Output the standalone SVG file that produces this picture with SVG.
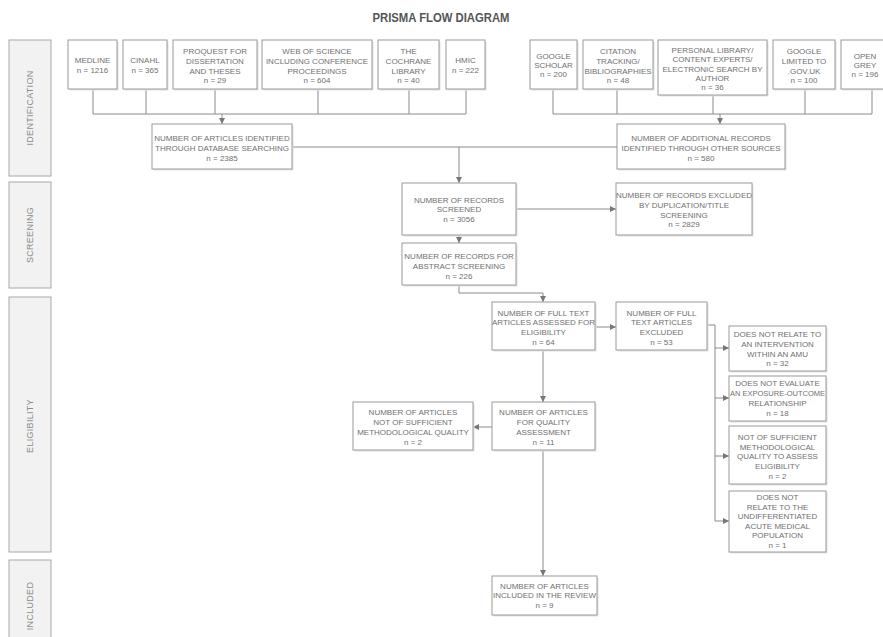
<svg xmlns="http://www.w3.org/2000/svg" width="883" height="637" viewBox="0 0 883 637">
<style>
.bg{fill:#ffffff}
.box{fill:#ffffff;stroke:#9a9a9a;stroke-width:1}
.sh{fill:#e2e2e2}
.side{fill:#f2f2f2;stroke:#a8a8a8;stroke-width:1}
.t{font-family:"Liberation Sans",Arial,sans-serif;font-size:8px;fill:#707070;text-anchor:middle}
.st{font-family:"Liberation Sans",Arial,sans-serif;font-size:9px;fill:#8a8a8a;text-anchor:middle;letter-spacing:0.3px}
.title{font-family:"Liberation Sans",Arial,sans-serif;font-size:13px;font-weight:bold;fill:#555555;text-anchor:middle}
.c{fill:none;stroke:#8a8a8a;stroke-width:1}
.a{fill:none;stroke:#8a8a8a;stroke-width:1;marker-end:url(#arr)}
</style>
<defs>
<marker id="arr" markerUnits="userSpaceOnUse" markerWidth="8" markerHeight="8" viewBox="0 0 8 8" refX="7" refY="4" orient="auto">
<path d="M1,1 L7,4 L1,7 Z" fill="#777777"/>
</marker>
</defs>
<rect class="bg" x="0" y="0" width="883" height="637"/>
<text class="title" x="441" y="22" textLength="137" lengthAdjust="spacingAndGlyphs">PRISMA FLOW DIAGRAM</text>

<g id="stages">
<g id="stage-identification"><rect class="side" x="9" y="40" width="42" height="136"/><text class="st" transform="translate(33,108) rotate(-90)">IDENTIFICATION</text></g>
<g id="stage-screening"><rect class="side" x="9" y="182" width="42" height="106"/><text class="st" transform="translate(33,235) rotate(-90)">SCREENING</text></g>
<g id="stage-eligibility"><rect class="side" x="9" y="297" width="42" height="255"/><text class="st" transform="translate(33,426) rotate(-90)">ELIGIBILITY</text></g>
<g id="stage-included"><rect class="side" x="9" y="560" width="42" height="90"/><text class="st" transform="translate(33,606) rotate(-90)">INCLUDED</text></g>
</g>

<g id="connectors">
<path class="c" d="M93,89 V114 M146,89 V114 M215,89 V114 M318,89 V114 M409,89 V114 M466,89 V114 M93,114 H466"/>
<path class="a" d="M222,114 V124"/>
<path class="c" d="M553,89 V114 M617,89 V114 M713,95 V114 M805,89 V114 M872,89 V114 M553,114 H872"/>
<path class="a" d="M720,114 V124"/>
<path class="c" d="M292,147 H617"/>
<path class="a" d="M459,147 V183"/>
<path class="a" d="M516,209 H616"/>
<path class="a" d="M459,235 V243"/>
<path class="a" d="M459,285 V293 H543 V302"/>
<path class="a" d="M595,327 H616"/>
<path class="c" d="M707,325 H715 V521"/>
<path class="a" d="M715,348 H729"/>
<path class="a" d="M715,398 H729"/>
<path class="a" d="M715,456 H729"/>
<path class="a" d="M715,521 H729"/>
<path class="a" d="M543,350 V402"/>
<path class="a" d="M492,427 H473"/>
<path class="a" d="M543,450 V576"/>
</g>

<g id="medline"><rect class="sh" x="69.5" y="41.5" width="49" height="49"/><rect class="box" x="68" y="40" width="49" height="49"/>
<text class="t" x="92.5" y="63">MEDLINE</text><text class="t" x="92.5" y="73">n = 1216</text></g>
<g id="cinahl"><rect class="sh" x="124.5" y="41.5" width="44" height="49"/><rect class="box" x="123" y="40" width="44" height="49"/>
<text class="t" x="145" y="63">CINAHL</text><text class="t" x="145" y="73">n = 365</text></g>
<g id="proquest"><rect class="sh" x="174.5" y="41.5" width="84" height="49"/><rect class="box" x="173" y="40" width="84" height="49"/>
<text class="t" x="215" y="54">PROQUEST FOR</text><text class="t" x="215" y="64">DISSERTATION</text><text class="t" x="215" y="74">AND THESES</text><text class="t" x="215" y="83">n = 29</text></g>
<g id="wos"><rect class="sh" x="263.5" y="41.5" width="110" height="49"/><rect class="box" x="262" y="40" width="110" height="49"/>
<text class="t" x="317" y="54">WEB OF SCIENCE</text><text class="t" x="317" y="64">INCLUDING CONFERENCE</text><text class="t" x="317" y="74">PROCEEDINGS</text><text class="t" x="317" y="83">n = 604</text></g>
<g id="cochrane"><rect class="sh" x="379.5" y="41.5" width="61" height="49"/><rect class="box" x="378" y="40" width="61" height="49"/>
<text class="t" x="408.5" y="54">THE</text><text class="t" x="408.5" y="64">COCHRANE</text><text class="t" x="408.5" y="74">LIBRARY</text><text class="t" x="408.5" y="83">n = 40</text></g>
<g id="hmic"><rect class="sh" x="447.5" y="41.5" width="39" height="49"/><rect class="box" x="446" y="40" width="39" height="49"/>
<text class="t" x="465.5" y="63">HMIC</text><text class="t" x="465.5" y="73">n = 222</text></g>

<g id="gscholar"><rect class="sh" x="531.5" y="41.5" width="47" height="49"/><rect class="box" x="530" y="40" width="47" height="49"/>
<text class="t" x="553.5" y="59">GOOGLE</text><text class="t" x="553.5" y="68">SCHOLAR</text><text class="t" x="553.5" y="77">n = 200</text></g>
<g id="citation"><rect class="sh" x="584.5" y="41.5" width="70" height="49"/><rect class="box" x="583" y="40" width="70" height="49"/>
<text class="t" x="618" y="54">CITATION</text><text class="t" x="618" y="64">TRACKING/</text><text class="t" x="618" y="74">BIBLIOGRAPHIES</text><text class="t" x="618" y="83">n = 48</text></g>
<g id="personal"><rect class="sh" x="659.5" y="41.5" width="109" height="55"/><rect class="box" x="658" y="40" width="109" height="55"/>
<text class="t" x="712.5" y="53">PERSONAL LIBRARY/</text><text class="t" x="712.5" y="62">CONTENT EXPERTS/</text><text class="t" x="712.5" y="72">ELECTRONIC SEARCH BY</text><text class="t" x="712.5" y="81">AUTHOR</text><text class="t" x="712.5" y="90">n = 36</text></g>
<g id="govuk"><rect class="sh" x="774.5" y="41.5" width="62" height="49"/><rect class="box" x="773" y="40" width="62" height="49"/>
<text class="t" x="804" y="54">GOOGLE</text><text class="t" x="804" y="64">LIMITED TO</text><text class="t" x="804" y="74">.GOV.UK</text><text class="t" x="804" y="83">n = 100</text></g>
<g id="opengrey"><rect class="sh" x="842.5" y="41.5" width="66" height="49"/><rect class="box" x="841" y="40" width="66" height="49"/>
<text class="t" x="865" y="59">OPEN</text><text class="t" x="865" y="68">GREY</text><text class="t" x="865" y="77">n = 196</text></g>

<g id="database"><rect class="sh" x="153.5" y="125.5" width="140" height="45"/><rect class="box" x="152" y="124" width="140" height="45"/>
<text class="t" x="222" y="141">NUMBER OF ARTICLES IDENTIFIED</text><text class="t" x="222" y="151">THROUGH DATABASE SEARCHING</text><text class="t" x="222" y="161">n = 2385</text></g>
<g id="additional"><rect class="sh" x="618.5" y="125.5" width="168" height="45"/><rect class="box" x="617" y="124" width="168" height="45"/>
<text class="t" x="701" y="141">NUMBER OF ADDITIONAL RECORDS</text><text class="t" x="701" y="151">IDENTIFIED THROUGH OTHER SOURCES</text><text class="t" x="701" y="161">n = 580</text></g>
<g id="screened"><rect class="sh" x="403.5" y="184.5" width="114" height="52"/><rect class="box" x="402" y="183" width="114" height="52"/>
<text class="t" x="459" y="203">NUMBER OF RECORDS</text><text class="t" x="459" y="212">SCREENED</text><text class="t" x="459" y="222">n = 3056</text></g>
<g id="excluded-dup"><rect class="sh" x="617.5" y="184.5" width="136" height="52"/><rect class="box" x="616" y="183" width="136" height="52"/>
<text class="t" x="684" y="198">NUMBER OF RECORDS EXCLUDED</text><text class="t" x="684" y="208">BY DUPLICATION/TITLE</text><text class="t" x="684" y="218">SCREENING</text><text class="t" x="684" y="227">n = 2829</text></g>
<g id="abstract"><rect class="sh" x="403.5" y="244.5" width="114" height="42"/><rect class="box" x="402" y="243" width="114" height="42"/>
<text class="t" x="459" y="259">NUMBER OF RECORDS FOR</text><text class="t" x="459" y="269">ABSTRACT SCREENING</text><text class="t" x="459" y="279">n = 226</text></g>
<g id="fulltext"><rect class="sh" x="493.5" y="303.5" width="103" height="48"/><rect class="box" x="492" y="302" width="103" height="48"/>
<text class="t" x="543.5" y="316">NUMBER OF FULL TEXT</text><text class="t" x="543.5" y="325">ARTICLES ASSESSED FOR</text><text class="t" x="543.5" y="335">ELIGIBILITY</text><text class="t" x="543.5" y="345">n = 64</text></g>
<g id="fulltext-excluded"><rect class="sh" x="617.5" y="303.5" width="91" height="48"/><rect class="box" x="616" y="302" width="91" height="48"/>
<text class="t" x="661.5" y="316">NUMBER OF FULL</text><text class="t" x="661.5" y="325">TEXT ARTICLES</text><text class="t" x="661.5" y="335">EXCLUDED</text><text class="t" x="661.5" y="345">n = 53</text></g>
<g id="reason1"><rect class="sh" x="730.5" y="327.5" width="97" height="45"/><rect class="box" x="729" y="326" width="97" height="45"/>
<text class="t" x="777.5" y="337">DOES NOT RELATE TO</text><text class="t" x="777.5" y="347">AN INTERVENTION</text><text class="t" x="777.5" y="357">WITHIN AN AMU</text><text class="t" x="777.5" y="366">n = 32</text></g>
<g id="reason2"><rect class="sh" x="730.5" y="377.5" width="97" height="45"/><rect class="box" x="729" y="376" width="97" height="45"/>
<text class="t" x="777.5" y="386">DOES NOT EVALUATE</text><text class="t" x="777.5" y="396" textLength="95" lengthAdjust="spacingAndGlyphs">AN EXPOSURE-OUTCOME</text><text class="t" x="777.5" y="406">RELATIONSHIP</text><text class="t" x="777.5" y="416">n = 18</text></g>
<g id="reason3"><rect class="sh" x="730.5" y="427.5" width="97" height="58"/><rect class="box" x="729" y="426" width="97" height="58"/>
<text class="t" x="777.5" y="440">NOT OF SUFFICIENT</text><text class="t" x="777.5" y="450">METHODOLOGICAL</text><text class="t" x="777.5" y="459">QUALITY TO ASSESS</text><text class="t" x="777.5" y="469">ELIGIBILITY</text><text class="t" x="777.5" y="479">n = 2</text></g>
<g id="reason4"><rect class="sh" x="730.5" y="492.5" width="97" height="61"/><rect class="box" x="729" y="491" width="97" height="61"/>
<text class="t" x="777.5" y="500">DOES NOT</text><text class="t" x="777.5" y="510">RELATE TO THE</text><text class="t" x="777.5" y="519">UNDIFFERENTIATED</text><text class="t" x="777.5" y="529">ACUTE MEDICAL</text><text class="t" x="777.5" y="538">POPULATION</text><text class="t" x="777.5" y="548">n = 1</text></g>
<g id="quality"><rect class="sh" x="493.5" y="403.5" width="103" height="48"/><rect class="box" x="492" y="402" width="103" height="48"/>
<text class="t" x="543.5" y="415">NUMBER OF ARTICLES</text><text class="t" x="543.5" y="425">FOR QUALITY</text><text class="t" x="543.5" y="435">ASSESSMENT</text><text class="t" x="543.5" y="445">n = 11</text></g>
<g id="insufficient"><rect class="sh" x="354.5" y="403.5" width="120" height="48"/><rect class="box" x="353" y="402" width="120" height="48"/>
<text class="t" x="413" y="415">NUMBER OF ARTICLES</text><text class="t" x="413" y="425">NOT OF SUFFICIENT</text><text class="t" x="413" y="435">METHODOLOGICAL QUALITY</text><text class="t" x="413" y="445">n = 2</text></g>
<g id="included"><rect class="sh" x="493.5" y="577.5" width="105" height="39"/><rect class="box" x="492" y="576" width="105" height="39"/>
<text class="t" x="544.5" y="589">NUMBER OF ARTICLES</text><text class="t" x="544.5" y="598">INCLUDED IN THE REVIEW</text><text class="t" x="544.5" y="608">n = 9</text></g>
</svg>
